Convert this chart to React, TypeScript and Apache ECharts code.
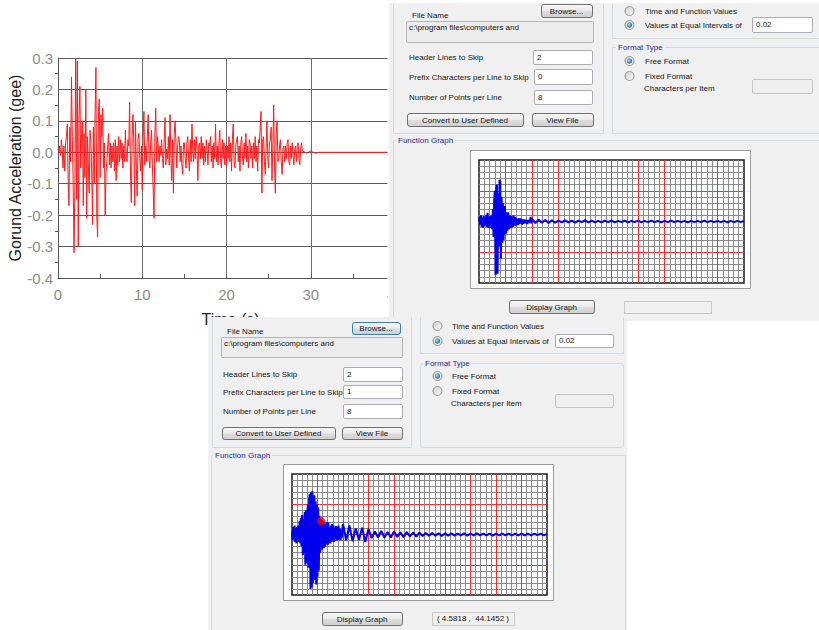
import React, { useEffect, useRef } from "react";
import * as echarts from "echarts";

// ---------- DATA ----------
// Red chart: ground acceleration (g), sampled every 0.1 s from t = 0
const redStep = 0.1;
const redValues = [
  0.01, 0.0, 0.02, -0.01, 0.04, 0.01, -0.05, 0.02, -0.06, 0.03,
  0.05, 0.09, -0.08, -0.17, 0.08, -0.03, 0.24, 0.05, -0.1, -0.32,
  -0.12, 0.3, -0.15, 0.29, -0.3, 0.12, 0.21, -0.05, 0.06, 0.1,
  -0.17, 0.06, -0.08, 0.2, -0.21, 0.05, -0.04, -0.13, 0.07, 0.04,
  -0.06, -0.23, 0.08, -0.1, 0.12, 0.27, -0.2, -0.27, 0.13, 0.17,
  -0.08, 0.12, 0.05, 0.14, -0.05, 0.03, -0.2, -0.06, -0.03, 0.02,
  0.06, -0.04, 0.03, -0.05, 0.02, -0.03, 0.03, -0.06, 0.04, -0.09,
  0.02, -0.04, 0.05, -0.03, 0.04, -0.02, 0.03, -0.05, 0.02, -0.03,
  0.07, -0.02, -0.03, 0.04, 0.02, 0.16, -0.06, -0.16, 0.05, 0.12,
  0.03, -0.17, 0.1, -0.05, -0.14, 0.04, 0.06, -0.02, -0.06, 0.02,
  -0.12, 0.04, 0.13, -0.04, 0.02, -0.03, 0.05, 0.12, -0.02, -0.05,
  0.03, 0.07, -0.04, -0.12, -0.21, 0.06, 0.14, -0.03, 0.05, 0.02,
  -0.03, 0.02, -0.01, 0.04, -0.02, -0.05, 0.03, 0.11, -0.04, 0.01,
  -0.02, 0.05, -0.04, 0.12, -0.02, -0.09, 0.04, -0.13, 0.06, 0.1,
  0.03, -0.05, 0.02, 0.05, 0.04, -0.03, 0.02, -0.04, -0.07, 0.03,
  0.03, -0.02, -0.05, 0.03, 0.05, -0.02, -0.06, 0.04, -0.03, 0.09,
  0.0, -0.03, 0.04, -0.02, 0.05, 0.01, -0.09, 0.02, 0.03, -0.02,
  0.05, -0.02, 0.03, -0.04, 0.02, -0.03, 0.04, 0.01, -0.04, 0.03,
  0.02, 0.05, -0.03, 0.02, -0.05, 0.03, -0.02, 0.09, -0.03, 0.02,
  -0.04, 0.03, 0.07, -0.02, -0.05, 0.04, -0.02, 0.03, -0.04, 0.02,
  -0.04, 0.02, -0.02, 0.05, -0.03, 0.03, -0.06, 0.04, 0.09, -0.03,
  -0.05, 0.02, 0.04, 0.05, -0.03, 0.02, -0.06, 0.03, 0.05, -0.02,
  -0.04, 0.03, -0.02, 0.06, -0.03, 0.02, -0.05, 0.04, 0.03, -0.02,
  0.02, -0.05, 0.03, -0.02, 0.05, -0.03, 0.02, -0.06, 0.04, 0.03,
  0.08, 0.13, -0.13, 0.04, 0.05, -0.03, -0.07, 0.02, 0.1, -0.02,
  -0.05, 0.03, 0.04, 0.08, -0.09, 0.02, 0.15, -0.04, -0.13, 0.06,
  0.1, -0.03, -0.02, 0.02, 0.04, -0.03, -0.07, 0.01, 0.02, -0.03,
  0.02, -0.02, 0.03, 0.04, -0.03, -0.04, 0.02, -0.02, 0.03, -0.01,
  -0.04, 0.01, 0.02, -0.03, 0.02, 0.03, -0.02, -0.04, 0.01, 0.03,
];
const redTailTimes = [29.0, 29.5, 30.0, 30.5, 31.0, 40.0];
const redTailValues = [0.005, -0.003, 0.004, -0.003, 0.0, 0.0];
const redXTicks = { min: 0, max: 40, interval: 10 };
const redYTicks = { min: -0.4, max: 0.3, interval: 0.1 };

// Function graphs (dialog previews): early part every 0.1 s, late part every 0.5 s from 8 s
const earlyStep = 0.1;
const lateStep = 0.5;
const lateStart = 8;
const topEarly = [
  0, 15, -10, 20, -18, 12, -20, 18, -15, 10,
  -12, 22, -18, 28, -20, 15, -22, 18, -10, 20,
  -25, 40, -50, 70, 100, -175, 110, 120, -170, 90,
  -80, 135, 130, -120, 80, -70, 60, -60, 40, 50,
  -40, -35, 30, -30, 30, -25, 20, -22, 18, -20,
  15, -18, 20, -12, 15, -15, 12, -10, 8, -12,
  10, -8, 10, -6, 8, -10, 6, -8, 7, -5,
  6, -6, 5, -8, 5, -4, 6, -5, 15, -6,
];
const topLate = [
  8, -5, 6, -4, 5, -5, 4, -4, 3,
  -3, 4, -3, 3, -4, 3, -2, 4, -3, 3, -3, 2, -3, 3, -2, 3,
  -3, 2, -2, 3, -3, 2, -2, 3, -3, 2,
  -2, 3, -2, 2, -3, 2, -2, 3, -2, 2,
  -2, 2, -3, 2, -2, 2, -2, 3, -2, 2,
  -2, 2, -2, 2, -3, 2, -2, 2, -2, 2,
];
const bottomEarly = [
  10, -20, 25, -15, 30, -25, 20, -30, 25, -20,
  30, -25, 45, -30, 55, -40, 64, -68, 50, -60,
  75, -100, 80, -95, 70, 100, -110, 120, 134, -180,
  140, -175, 143, -160, 120, 130, -150, 110, -165, 100,
  -140, 90, -120, 62, -60, 50, 44, -50, 30, 45,
  -45, 40, -40, 35, -30, 42, -35, 40, -30, 25,
  -30, 30, -25, 35, -20, 30, -25, 20, -15, 28,
  -20, 25, -18, 30, -15, 20, -20, 15, -12, 18,
];
const bottomLate = [
  35, -20, 30, -22, 20, -18, 22, -25, 18,
  -12, 10, -10, 12, -10, 8, -10, 10, -8, 7, -9, 8, -6, 7, -7, 6,
  -5, 5, -4, 5, -4, 4, -5, 4, -4, 4,
  -4, 3, -3, 4, -4, 3, -3, 4, -3, 3,
  -3, 3, -4, 3, -3, 3, -3, 3, -3, 3,
  -3, 3, -3, 3, -3, 3, -2, 3, -3, 2,
];
const graphXTicks = { min: 0, max: 40, interval: 4 };
const graphYTicks = { min: -200, max: 200, interval: 100 };
const dotPoint = [4.5818, 44.1452];

// Dialog field values
const fileNameText = "c:\\program files\\computers and";
const topFields = { header: "2", prefix: "0", points: "8", interval: "0.02" };
const bottomFields = { header: "2", prefix: "1", points: "8", interval: "0.02" };

// ---------- HELPERS ----------
const FONT = "'Liberation Sans', Arial, sans-serif";
const UI = 8;

function txt(x: number, y: number, s: string, z: number, o: any = {}) {
  return {
    type: "text",
    z,
    silent: true,
    style: {
      text: s,
      x,
      y,
      fill: o.fill || "#151515",
      fontSize: o.size || UI,
      fontFamily: FONT,
      align: o.align || "left",
      verticalAlign: "middle",
      backgroundColor: o.bg,
      padding: o.bg ? [0, 2] : undefined,
    },
  };
}
function box(x1: number, y1: number, x2: number, y2: number, z: number, fill: any, stroke: string, r = 0) {
  return {
    type: "rect",
    z,
    silent: true,
    shape: { x: x1 + 0.5, y: y1 + 0.5, width: x2 - x1, height: y2 - y1, r },
    style: { fill, stroke, lineWidth: 1 },
  };
}
function btnFill() {
  return new echarts.graphic.LinearGradient(0, 0, 0, 1, [
    { offset: 0, color: "#f7f7f7" },
    { offset: 0.48, color: "#ebebeb" },
    { offset: 0.52, color: "#dddddd" },
    { offset: 1, color: "#cfcfcf" },
  ]);
}
function button(x1: number, y1: number, x2: number, y2: number, label: string, z: number, focused = false) {
  return [
    box(x1, y1, x2, y2, z, btnFill(), focused ? "#3c7fb1" : "#707070", 2.5),
    txt((x1 + x2) / 2, (y1 + y2) / 2 + 0.5, label, z + 1, { align: "center" }),
  ];
}
function textbox(x1: number, y1: number, x2: number, y2: number, val: string, z: number, disabled = false) {
  const els: any[] = [box(x1, y1, x2, y2, z, disabled ? "#efefef" : "#ffffff", disabled ? "#c6c6c6" : "#abadb3", 1.5)];
  if (val) els.push(txt(x1 + 4, (y1 + y2) / 2, val, z + 1));
  return els;
}
function radio(cx: number, cy: number, sel: boolean, z: number) {
  const els: any[] = [
    {
      type: "circle",
      z,
      silent: true,
      shape: { cx, cy, r: 4.5 },
      style: {
        fill: new echarts.graphic.LinearGradient(0, 0, 1, 1, [
          { offset: 0, color: "#cfcfcf" },
          { offset: 1, color: "#fbfbfb" },
        ]),
        stroke: "#8e8f8f",
        lineWidth: 1,
      },
    },
  ];
  if (sel)
    els.push({
      type: "circle",
      z: z + 1,
      silent: true,
      shape: { cx, cy, r: 2.7 },
      style: {
        fill: new echarts.graphic.RadialGradient(0.4, 0.4, 0.7, [
          { offset: 0, color: "#8ee6ff" },
          { offset: 1, color: "#0b4c96" },
        ]),
      },
    });
  return els;
}
function gline(points: number[][], z: number) {
  return {
    type: "polyline",
    z,
    silent: true,
    shape: { points: points.map((p) => [p[0] + 0.5, p[1] + 0.5]) },
    style: { fill: "none", stroke: "#d3dbe0", lineWidth: 1 },
  };
}

function buildPanels() {
  const els: any[] = [];
  // white gap between cropped chart and top dialog
  els.push(box(387, -1, 389, 318, 9, "#ffffff", "none"));

  // ---------- TOP DIALOG (z 10..12) ----------
  const z = 10;
  els.push({ type: "rect", z, silent: true, shape: { x: 389, y: 3, width: 440, height: 318 }, style: { fill: "#f0f0f0" } });
  els.push(gline([[393, 3], [393, 133], [603, 133], [603, 3]], z + 1));
  els.push(gline([[612, 3], [612, 38], [830, 38]], z + 1));
  els.push(gline([[830, 47], [612, 47], [612, 133], [830, 133]], z + 1));
  els.push(gline([[830, 140], [393, 140], [393, 321]], z + 1));
  els.push(txt(412, 15, "File Name", z + 2));
  els.push(...button(541, 4, 592, 17, "Browse...", z + 1));
  els.push(box(406, 21, 593, 42, z + 1, "#ececec", "#b6b6b6", 1));
  els.push(txt(409, 27.5, fileNameText, z + 2));
  els.push(txt(409, 57.5, "Header Lines to Skip", z + 2));
  els.push(...textbox(533, 50, 592, 64, topFields.header, z + 1));
  els.push(txt(409, 77, "Prefix Characters per Line to Skip", z + 2));
  els.push(...textbox(534, 69, 592, 84, topFields.prefix, z + 1));
  els.push(txt(409, 97.5, "Number of Points per Line", z + 2));
  els.push(...textbox(534, 90, 592, 104, topFields.points, z + 1));
  els.push(...button(407, 113, 523, 126, "Convert to User Defined", z + 1));
  els.push(...button(532, 113, 593, 126, "View File", z + 1));
  els.push(...radio(629.5, 11, false, z + 1));
  els.push(txt(645, 11, "Time and Function Values", z + 2));
  els.push(...radio(629.5, 25, true, z + 1));
  els.push(txt(645, 25, "Values at Equal Intervals of", z + 2));
  els.push(...textbox(752, 17, 812, 32, topFields.interval, z + 1));
  els.push(txt(616, 47, "Format Type", z + 2, { fill: "#1f2a9c", bg: "#f0f0f0" }));
  els.push(...radio(629.5, 61, true, z + 1));
  els.push(txt(645, 61, "Free Format", z + 2));
  els.push(...radio(629.5, 76, false, z + 1));
  els.push(txt(645, 76, "Fixed Format", z + 2));
  els.push(txt(644, 88.5, "Characters per Item", z + 2));
  els.push(...textbox(752, 79, 812, 93, "", z + 1, true));
  els.push(txt(396, 140, "Function Graph", z + 2, { fill: "#1f2a9c", bg: "#f0f0f0" }));
  els.push(box(470, 150, 750, 288, z + 1, "#ffffff", "#9a9a9a"));
  els.push(...button(509, 300, 594, 313, "Display Graph", z + 1));
  els.push(box(624, 301, 711, 313, z + 1, "#f0f0f0", "#c8c8c8"));

  // ---------- BOTTOM DIALOG (z 20..22) ----------
  const b = 20;
  els.push({ type: "rect", z: b, silent: true, shape: { x: 208, y: 317, width: 419, height: 320 }, style: { fill: "#f0f0f0" } });
  els.push(gline([[212, 317], [212, 447], [411, 447], [411, 317]], b + 1));
  els.push(gline([[420, 317], [420, 353], [623, 353], [623, 317]], b + 1));
  els.push(box(420, 363, 623, 447, b + 1, "none", "#d3dbe0", 3));
  els.push(gline([[211, 640], [211, 455], [625, 455], [625, 640]], b + 1));
  els.push(txt(227, 331, "File Name", b + 2));
  els.push(...button(352, 322, 400, 334, "Browse...", b + 1, true));
  els.push(box(221, 337, 402, 357, b + 1, "#ececec", "#b6b6b6", 1));
  els.push(txt(224, 343.5, fileNameText, b + 2));
  els.push(txt(223, 374, "Header Lines to Skip", b + 2));
  els.push(...textbox(343, 367, 402, 381, bottomFields.header, b + 1));
  els.push(txt(223, 392, "Prefix Characters per Line to Skip", b + 2));
  els.push(...textbox(343, 385, 402, 398, bottomFields.prefix, b + 1));
  els.push(txt(223, 411.5, "Number of Points per Line", b + 2));
  els.push(...textbox(343, 404, 402, 418, bottomFields.points, b + 1));
  els.push(...button(222, 427, 335, 439, "Convert to User Defined", b + 1));
  els.push(...button(342, 427, 402, 439, "View File", b + 1));
  els.push(...radio(437.5, 326, false, b + 1));
  els.push(txt(452, 326, "Time and Function Values", b + 2));
  els.push(...radio(437.5, 341, true, b + 1));
  els.push(txt(452, 341, "Values at Equal Intervals of", b + 2));
  els.push(...textbox(555, 334, 613, 347, bottomFields.interval, b + 1));
  els.push(txt(423, 363, "Format Type", b + 2, { fill: "#1f2a9c", bg: "#f0f0f0" }));
  els.push(...radio(437.5, 376, true, b + 1));
  els.push(txt(452, 376, "Free Format", b + 2));
  els.push(...radio(437.5, 391, false, b + 1));
  els.push(txt(452, 391, "Fixed Format", b + 2));
  els.push(txt(451, 403.5, "Characters per Item", b + 2));
  els.push(...textbox(555, 394, 613, 407, "", b + 1, true));
  els.push(txt(213, 455, "Function Graph", b + 2, { fill: "#1f2a9c", bg: "#f0f0f0" }));
  els.push(box(283, 464, 553, 600, b + 1, "#ffffff", "#9a9a9a"));
  els.push(...button(322, 612, 402, 625, "Display Graph", b + 1));
  els.push(box(432, 612, 514, 625, b + 1, "#f0f0f0", "#c8c8c8"));
  els.push(txt(473, 618.5, `( ${dotPoint[0]} ,  ${dotPoint[1]} )`, b + 2, { align: "center" }));
  return els;
}

function graphAxes(gridIndex: number, z: number) {
  const split = { show: true, showMinLine: false, showMaxLine: false, lineStyle: { color: "#ff2b2b", width: 1 } };
  const minor = { show: true, lineStyle: { color: "#8a8a8a", width: 1 } };
  const common = {
    gridIndex,
    type: "value",
    z,
    axisLine: { show: false, onZero: false },
    axisTick: { show: false },
    axisLabel: { show: false },
    minorTick: { show: false, splitNumber: 5 },
    splitLine: split,
    minorSplitLine: minor,
  };
  return {
    x: { ...common, ...graphXTicks },
    y: { ...common, ...graphYTicks },
  };
}

function wave(early: number[], late: number[]) {
  return early
    .map((v, i) => [+(i * earlyStep).toFixed(2), v])
    .concat(late.map((v, i) => [lateStart + i * lateStep, v]));
}

export default function App() {
  const ref = useRef<HTMLDivElement>(null);
  useEffect(() => {
    if (!ref.current) return;
    const chart = echarts.init(ref.current, undefined, { renderer: "svg" });
    const redData = redValues
      .map((v, i) => [+(i * redStep).toFixed(2), v])
      .concat(redTailTimes.map((t, i) => [t, redTailValues[i]]));
    const g1 = graphAxes(1, 13);
    const g2 = graphAxes(2, 23);
    const tickColor = "#555555";
    chart.setOption({
      animation: false,
      backgroundColor: "#ffffff",
      grid: [
        { left: 58, top: 58, width: 337, height: 220, outerBoundsMode: "none" },
        { left: 479, top: 160, width: 265, height: 123, show: true, backgroundColor: "#ffffff", borderColor: "#1a1a1a", borderWidth: 1.5, z: 13, outerBoundsMode: "none" },
        { left: 292, top: 474, width: 255, height: 121, show: true, backgroundColor: "#ffffff", borderColor: "#1a1a1a", borderWidth: 1.5, z: 23, outerBoundsMode: "none" },
      ],
      xAxis: [
        {
          gridIndex: 0,
          type: "value",
          ...redXTicks,
          axisLine: { show: true, onZero: false, lineStyle: { color: tickColor, width: 1 } },
          axisTick: { show: true, inside: true, length: 4, lineStyle: { color: tickColor } },
          minorTick: { show: true, splitNumber: 2, length: 4, lineStyle: { color: tickColor } },
          axisLabel: { color: "#8c8c8c", fontSize: 15, fontFamily: FONT, margin: 9 },
          splitLine: { show: true, lineStyle: { color: "#6e6e6e", width: 1 } },
          name: "Time (s)",
          nameLocation: "middle",
          nameGap: 33,
          nameTextStyle: { color: "#222222", fontSize: 16, fontFamily: FONT, padding: [0, 0, 0, 8] },
        },
        g1.x,
        g2.x,
      ],
      yAxis: [
        {
          gridIndex: 0,
          type: "value",
          ...redYTicks,
          axisLine: { show: true, onZero: false, lineStyle: { color: tickColor, width: 1 } },
          axisTick: { show: false },
          minorTick: { show: true, splitNumber: 2, length: 3, lineStyle: { color: tickColor } },
          axisLabel: {
            color: "#8c8c8c",
            fontSize: 15,
            fontFamily: FONT,
            margin: 5,
            formatter: (v: number) => (Math.abs(v) < 1e-9 ? "0.0" : v.toFixed(1)),
          },
          splitLine: { show: true, lineStyle: { color: "#5c5c5c", width: 1 } },
          name: "Gorund Acceleration (gee)",
          nameLocation: "middle",
          nameRotate: 90,
          nameGap: 30,
          nameTextStyle: { color: "#222222", fontSize: 16, fontFamily: FONT },
        },
        g1.y,
        g2.y,
      ],
      graphic: { elements: buildPanels() },
      series: [
        {
          type: "line",
          xAxisIndex: 0,
          yAxisIndex: 0,
          data: redData,
          showSymbol: false,
          silent: true,
          z: 2,
          lineStyle: { color: "#ff1a1a", width: 1 },
        },
        {
          type: "line",
          xAxisIndex: 1,
          yAxisIndex: 1,
          data: wave(topEarly, topLate),
          showSymbol: false,
          silent: true,
          z: 14,
          lineStyle: { color: "#0000ee", width: 2.1 },
        },
        {
          type: "line",
          xAxisIndex: 2,
          yAxisIndex: 2,
          data: wave(bottomEarly, bottomLate),
          showSymbol: false,
          silent: true,
          z: 24,
          lineStyle: { color: "#0000ee", width: 2.1 },
        },
        {
          type: "scatter",
          xAxisIndex: 2,
          yAxisIndex: 2,
          data: [dotPoint],
          symbolSize: 8,
          silent: true,
          z: 25,
          itemStyle: { color: "#ff0000" },
        },
      ],
    });
    return () => chart.dispose();
  }, []);
  return (
    <div
      ref={ref}
      style={{ position: "absolute", left: 0, top: 0, width: 819, height: 630, background: "#ffffff" }}
    />
  );
}
